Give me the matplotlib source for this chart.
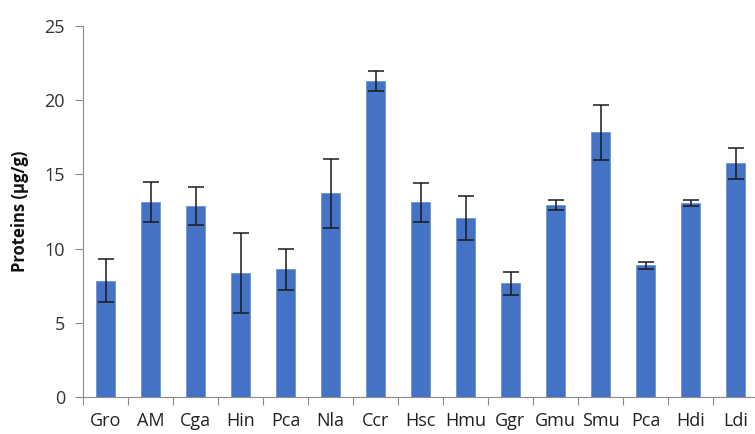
import matplotlib
matplotlib.use("Agg")
import matplotlib.pyplot as plt
import numpy as np

species = ["Gro", "AM", "Cga", "Hin", "Pca", "Nla", "Ccr", "Hsc",
           "Hmu", "Ggr", "Gmu", "Smu", "Pca", "Hdi", "Ldi"]
proteins = [7.84, 13.14, 12.87, 8.33, 8.60, 13.72, 21.29, 13.11,
            12.06, 7.66, 12.91, 17.83, 8.87, 13.05, 15.74]
errors = [1.47, 1.37, 1.28, 2.70, 1.37, 2.35, 0.65, 1.33,
          1.46, 0.76, 0.34, 1.85, 0.22, 0.20, 1.03]
y_ticks = [0, 5, 10, 15, 20, 25]

plt.rcParams["font.family"] = ["Open Sans", "DejaVu Sans"]

W, H = 755, 434
fig = plt.figure(figsize=(W / 100, H / 100), dpi=100)
ax = fig.add_axes([83 / W, 1 - 397 / H, 675 / W, (397 - 26) / H])

x = np.arange(len(species))
ax.bar(x, proteins, width=0.42, color="#4472C4", edgecolor="#6F92D6",
       linewidth=0.6, zorder=2)
ax.errorbar(x, proteins, yerr=errors, fmt="none", ecolor="#1a1a1a",
            elinewidth=1.1, capsize=6, capthick=1.1, zorder=3)

ax.set_xlim(-0.5, len(species) - 0.5)
ax.set_ylim(0, 25)
ax.set_yticks(y_ticks)
ax.tick_params(axis="y", direction="out", length=6, width=0.8,
               color="#8c8c8c", labelsize=13, labelcolor="#333333", pad=7)

# category labels centred on bars, tick marks between categories
ax.set_xticks(x)
ax.set_xticklabels(species)
ax.tick_params(axis="x", which="major", length=0, labelsize=13,
               labelcolor="#222222", pad=11)
ax.set_xticks(np.arange(-0.5, len(species) + 0.5, 1), minor=True)
ax.tick_params(axis="x", which="minor", direction="out", length=6,
               width=0.8, color="#8c8c8c")

for side in ["top", "right"]:
    ax.spines[side].set_visible(False)
for side in ["left", "bottom"]:
    ax.spines[side].set_color("#8c8c8c")
    ax.spines[side].set_linewidth(0.8)

ax.set_ylabel("Proteins (\u00b5g/g)", fontsize=12, fontweight="bold",
              color="#111111", labelpad=11)

fig.savefig("out.png", dpi=100)
